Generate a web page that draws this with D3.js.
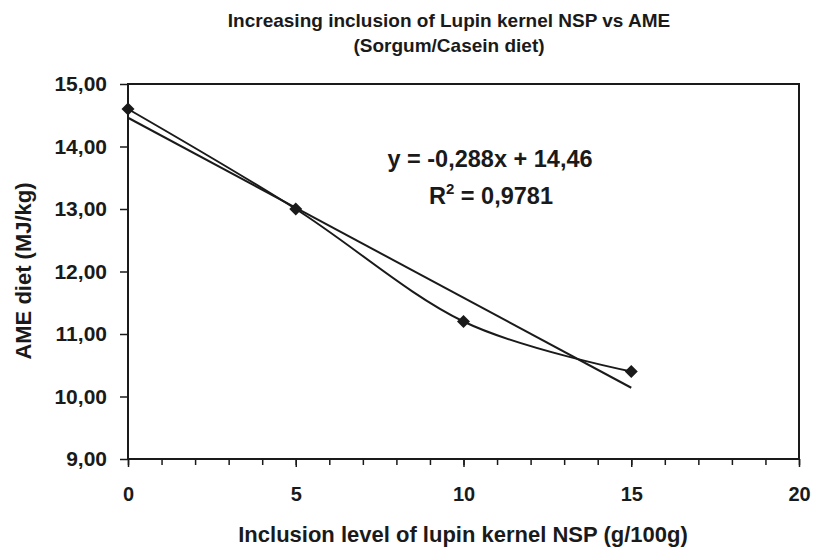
<!DOCTYPE html>
<html>
<head>
<meta charset="utf-8">
<script src="https://cdn.jsdelivr.net/npm/d3@7"></script>
<style>
  body { margin: 0; background: #fff; }
  text { font-family: "Liberation Sans", Arial, sans-serif; font-weight: bold; fill: #1a1a1a; }
</style>
</head>
<body>
<svg id="chart" width="814" height="549"></svg>
<script>
var xValues = [0, 5, 10, 15];
var ameValues = [14.6, 13.0, 11.2, 10.4];
var xTicks = [0, 5, 10, 15, 20];
var yTicks = [9, 10, 11, 12, 13, 14, 15];
var trendSlope = -0.288;
var trendIntercept = 14.46;
var trendRange = [0, 15];

var svg = d3.select("#chart");
var plotLeft = 128, plotRight = 799, plotTop = 84, plotBottom = 459;

var x = d3.scaleLinear().domain([0, 20]).range([plotLeft, plotRight]);
var y = d3.scaleLinear().domain([9, 15]).range([plotBottom, plotTop]);

var fmt = function(d) { return d3.format(".2f")(d).replace(".", ","); };

// plot frame
svg.append("rect")
    .attr("x", plotLeft).attr("y", plotTop)
    .attr("width", plotRight - plotLeft).attr("height", plotBottom - plotTop)
    .attr("fill", "none").attr("stroke", "#1a1a1a").attr("stroke-width", 2);

// x axis minor + major ticks
var xMinor = svg.append("g").attr("transform", "translate(0," + plotBottom + ")")
    .call(d3.axisBottom(x).tickValues(d3.range(0, 21, 1)).tickSize(6).tickFormat(""));
var xAxis = svg.append("g").attr("transform", "translate(0," + plotBottom + ")")
    .call(d3.axisBottom(x).tickValues(xTicks).tickSize(8).tickFormat(d3.format("d")).tickPadding(20));
svg.selectAll(".domain").remove();
xMinor.selectAll("line").attr("stroke", "#1a1a1a").attr("stroke-width", 1.5);
xAxis.selectAll("line").attr("stroke", "#1a1a1a").attr("stroke-width", 1.5);
xAxis.selectAll("text").style("font-size", "20px").attr("fill", "#1a1a1a");

var yAxis = svg.append("g").attr("transform", "translate(" + plotLeft + ",0)");
yAxis.call(d3.axisLeft(y).tickValues(yTicks).tickSize(8).tickPadding(13).tickFormat(fmt));
yAxis.selectAll(".domain").remove();
yAxis.selectAll("line").attr("stroke", "#1a1a1a").attr("stroke-width", 1.5);
yAxis.selectAll("text").style("font-size", "21px").attr("fill", "#1a1a1a");

var data = xValues.map(function(d, i) { return { x: d, y: ameValues[i] }; });

// smoothed data line
var line = d3.line()
    .x(function(d) { return x(d.x); })
    .y(function(d) { return y(d.y); })
    .curve(d3.curveCardinal.tension(0));

svg.append("path")
    .datum(data)
    .attr("d", line)
    .attr("fill", "none").attr("stroke", "#1a1a1a").attr("stroke-width", 2);

// linear trendline
var trend = trendRange.map(function(d) { return { x: d, y: trendSlope * d + trendIntercept }; });
svg.append("path")
    .datum(trend)
    .attr("d", d3.line().x(function(d) { return x(d.x); }).y(function(d) { return y(d.y); }))
    .attr("fill", "none").attr("stroke", "#1a1a1a").attr("stroke-width", 2);

// diamond markers
svg.selectAll(".marker")
    .data(data)
    .enter().append("path")
    .attr("class", "marker")
    .attr("transform", function(d) { return "translate(" + x(d.x) + "," + y(d.y) + ")"; })
    .attr("d", "M0,-6.5L6.5,0L0,6.5L-6.5,0Z")
    .attr("fill", "#1a1a1a");

// titles
svg.append("text").attr("x", 449).attr("y", 27).attr("text-anchor", "middle")
    .style("font-size", "19px").text("Increasing inclusion of Lupin kernel NSP vs AME");
svg.append("text").attr("x", 449).attr("y", 52).attr("text-anchor", "middle")
    .style("font-size", "19px").text("(Sorgum/Casein diet)");

svg.append("text").attr("x", 463).attr("y", 542).attr("text-anchor", "middle")
    .style("font-size", "22px").text("Inclusion level of lupin kernel NSP (g/100g)");

svg.append("text")
    .attr("transform", "translate(31,271) rotate(-90)")
    .attr("text-anchor", "middle")
    .style("font-size", "22px").text("AME diet (MJ/kg)");

// equation
svg.append("text").attr("x", 490).attr("y", 167).attr("text-anchor", "middle")
    .style("font-size", "23.5px").text("y = -0,288x + 14,46");
var r2 = svg.append("text").attr("x", 491).attr("y", 204).attr("text-anchor", "middle")
    .style("font-size", "23.5px");
r2.append("tspan").text("R");
r2.append("tspan").attr("dy", -10).style("font-size", "15px").text("2");
r2.append("tspan").attr("dy", 10).text(" = 0,9781");
</script>
</body>
</html>
